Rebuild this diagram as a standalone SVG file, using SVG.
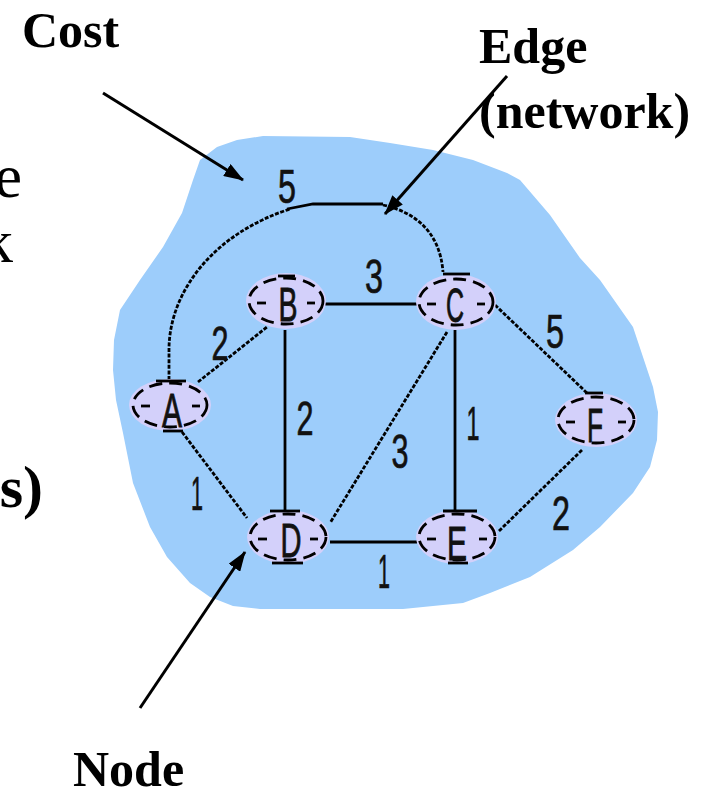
<svg xmlns="http://www.w3.org/2000/svg" width="717" height="791" viewBox="0 0 717 791">
<style>
.lbl{font-family:"Liberation Serif","Times New Roman",serif;font-weight:bold;font-size:50px;fill:#000}
.frag{font-family:"Liberation Serif","Times New Roman",serif;font-size:62px;fill:#000}
.nf{fill:#d3d0fa}
.no{fill:none;stroke:#000;stroke-width:2.8;stroke-dasharray:13 7}
.bar{stroke:#000;stroke-width:2.8}
.nt{font-family:"Liberation Sans","DejaVu Sans",sans-serif;font-size:48px;fill:#111;stroke:#111;stroke-width:0.9;text-anchor:middle}
.num{font-family:"Liberation Sans","DejaVu Sans",sans-serif;font-size:48px;fill:#111;stroke:#111;stroke-width:0.7;text-anchor:middle}
.e{fill:none;stroke:#000;stroke-width:2.8}
.d{fill:none;stroke:#000;stroke-width:2.8;stroke-dasharray:4 1.6}
.arr{fill:none;stroke:#000;stroke-width:3;marker-end:url(#ah)}
</style>
<defs>
<marker id="ah" viewBox="0 0 20 14" refX="19" refY="7" markerWidth="20" markerHeight="14" markerUnits="userSpaceOnUse" orient="auto">
<path d="M0,0 L20,7 L0,14 z" fill="#000"/>
</marker>
</defs>

<g id="cloud">
<path fill="#9dcdfb" d="M237,140 L263,136 L350,137 L390,143 L433,150 L473,160 L507,173 L520,180 L550,215 L580,258 L600,280 L633,327 L653,387 L658,412 L657,440 L650,467 L633,493 L600,527 L573,550 L530,577 L490,593 L463,603 L403,609 L260,609 L233,606 L210,597 L190,583 L167,557 L150,527 L133,483 L123,433 L116,400 L113,370 L114,340 L120,310 L140,280 L163,247 L182,213 L193,180 L200,160 L217,147 Z"/>
</g>

<g id="texts">
<text class="frag" x="22" y="197" text-anchor="end">e</text>
<text class="frag" x="13" y="262" text-anchor="end">k</text>
<text class="lbl" x="43" y="507" text-anchor="end" style="font-size:60px">s)</text>
<text class="lbl" x="22" y="47">Cost</text>
<text class="lbl" x="479" y="63">Edge</text>
<text class="lbl" x="479" y="128">(network)</text>
<text class="lbl" x="73" y="786">Node</text>
</g>

<g id="connectors">
<path class="d" d="M169,380 L169,348 C170,290 215,233 290,209"/>
<path class="e" d="M287,209 L313,204 L383,204"/>
<path class="d" d="M383,205 C415,212 440,232 443,272"/>
<line class="d" x1="198" y1="382" x2="267" y2="327"/>
<line class="e" x1="325" y1="304" x2="417" y2="304"/>
<line class="e" x1="285" y1="330" x2="285" y2="512"/>
<line class="e" x1="455" y1="330" x2="455" y2="512"/>
<line class="d" x1="447" y1="332" x2="330" y2="523"/>
<line class="d" x1="495" y1="305" x2="587" y2="393"/>
<line class="d" x1="582" y1="450" x2="498" y2="532"/>
<line class="d" x1="182" y1="432" x2="247" y2="518"/>
<line class="e" x1="330" y1="542" x2="417" y2="542"/>
<line class="arr" x1="103" y1="93" x2="243" y2="180"/>
<line class="arr" x1="507" y1="76" x2="385" y2="214"/>
<line class="arr" x1="140" y1="708" x2="245" y2="552"/>
</g>

<g id="weights">
<text class="num" x="287" y="203" textLength="18" lengthAdjust="spacingAndGlyphs">5</text>
<text class="num" x="374" y="293" textLength="18" lengthAdjust="spacingAndGlyphs">3</text>
<text class="num" x="220" y="360" textLength="17" lengthAdjust="spacingAndGlyphs">2</text>
<text class="num" x="305" y="435" textLength="17" lengthAdjust="spacingAndGlyphs">2</text>
<text class="num" x="555" y="348" textLength="18" lengthAdjust="spacingAndGlyphs">5</text>
<text class="num" x="473" y="440" textLength="13" lengthAdjust="spacingAndGlyphs">1</text>
<text class="num" x="400" y="468" textLength="17" lengthAdjust="spacingAndGlyphs">3</text>
<text class="num" x="561" y="530" textLength="18" lengthAdjust="spacingAndGlyphs">2</text>
<text class="num" x="197" y="510" textLength="12" lengthAdjust="spacingAndGlyphs">1</text>
<text class="num" x="384" y="588" textLength="12" lengthAdjust="spacingAndGlyphs">1</text>
</g>

<g id="node-A">
<ellipse class="nf" cx="170" cy="405" rx="41" ry="26"/>
<ellipse class="no" cx="170" cy="405" rx="37" ry="22"/>
<line class="bar" x1="141" y1="406" x2="150" y2="406"/><line class="bar" x1="192" y1="406" x2="200" y2="406"/>
<line class="bar" x1="156" y1="381" x2="186" y2="381"/><line class="bar" x1="163" y1="431" x2="183" y2="431"/>
<text class="nt" x="172" y="427" textLength="20" lengthAdjust="spacingAndGlyphs">A</text>
</g>
<g id="node-B">
<ellipse class="nf" cx="286" cy="301" rx="40" ry="28"/>
<ellipse class="no" cx="286" cy="301" rx="37" ry="23"/>
<line class="bar" x1="257" y1="303" x2="266" y2="303"/><line class="bar" x1="307" y1="303" x2="315" y2="303"/>
<line class="bar" x1="278" y1="276" x2="295" y2="276"/>
<text class="nt" x="288" y="321" textLength="19" lengthAdjust="spacingAndGlyphs">B</text>
</g>
<g id="node-C">
<ellipse class="nf" cx="456" cy="302" rx="40" ry="28"/>
<ellipse class="no" cx="456" cy="302" rx="37" ry="23"/>
<line class="bar" x1="427" y1="304" x2="436" y2="304"/><line class="bar" x1="477" y1="304" x2="485" y2="304"/>
<line class="bar" x1="443" y1="274" x2="470" y2="274"/>
<text class="nt" x="455" y="322" textLength="18" lengthAdjust="spacingAndGlyphs">C</text>
</g>
<g id="node-D">
<ellipse class="nf" cx="288" cy="537" rx="41" ry="27"/>
<ellipse class="no" cx="288" cy="537" rx="38" ry="23"/>
<line class="bar" x1="258" y1="539" x2="267" y2="539"/><line class="bar" x1="310" y1="539" x2="318" y2="539"/>
<line class="bar" x1="270" y1="511" x2="300" y2="511"/><line class="bar" x1="272" y1="563" x2="303" y2="563"/>
<text class="nt" x="291" y="557" textLength="21" lengthAdjust="spacingAndGlyphs">D</text>
</g>
<g id="node-E">
<ellipse class="nf" cx="457" cy="537" rx="41" ry="27"/>
<ellipse class="no" cx="457" cy="537" rx="38" ry="23"/>
<line class="bar" x1="427" y1="539" x2="436" y2="539"/><line class="bar" x1="479" y1="539" x2="487" y2="539"/>
<line class="bar" x1="443" y1="511" x2="477" y2="511"/><line class="bar" x1="448" y1="563" x2="468" y2="563"/>
<text class="nt" x="457" y="560" textLength="20" lengthAdjust="spacingAndGlyphs">E</text>
</g>
<g id="node-F">
<ellipse class="nf" cx="596" cy="420" rx="41" ry="27"/>
<ellipse class="no" cx="596" cy="420" rx="38" ry="23"/>
<line class="bar" x1="566" y1="422" x2="575" y2="422"/><line class="bar" x1="618" y1="422" x2="626" y2="422"/>
<line class="bar" x1="585" y1="393" x2="603" y2="393"/>
<text class="nt" x="595" y="442" textLength="16" lengthAdjust="spacingAndGlyphs">F</text>
</g>
</svg>
